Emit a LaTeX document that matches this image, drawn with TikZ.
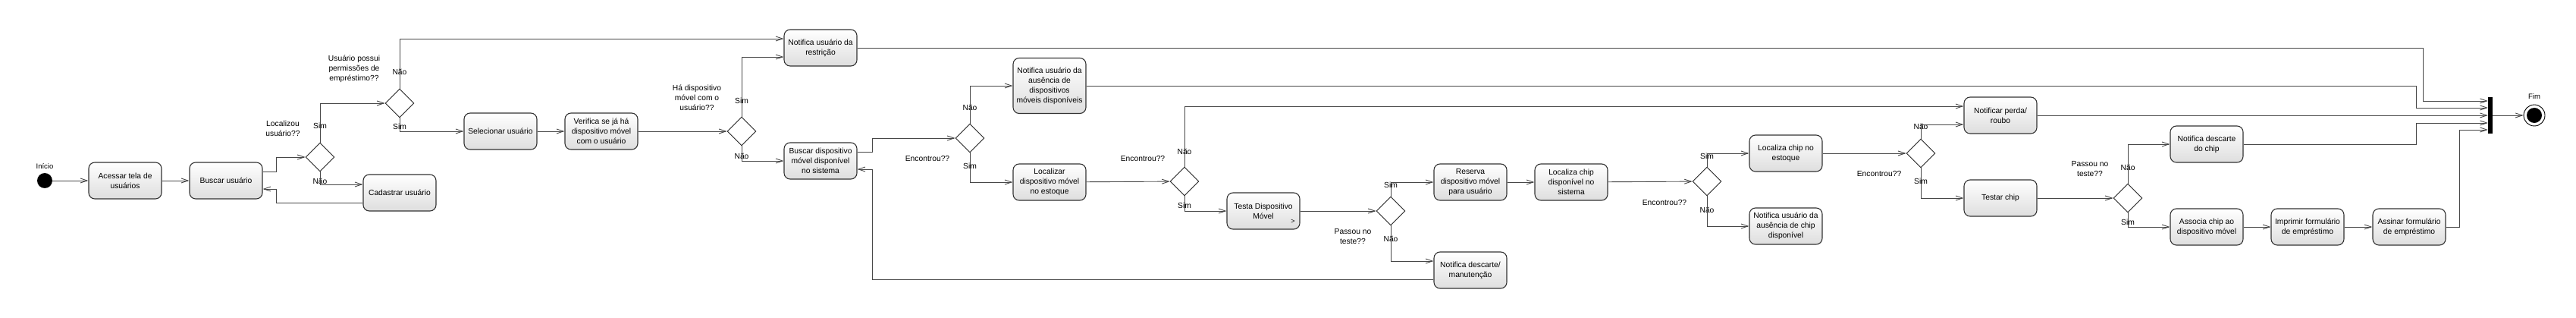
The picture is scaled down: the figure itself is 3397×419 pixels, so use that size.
\documentclass[tikz,border=0pt]{standalone}
\usepackage{fontspec}
\setmainfont{Liberation Sans}
\usetikzlibrary{arrows.meta,calc,shapes.geometric}
\tikzset{
  flow arrow/.style = {-{Straight Barb[length=9pt,width=6pt]}, line width=0.9pt, draw=black!72},
  action/.style     = {rectangle, rounded corners=8pt, draw=black!80, line width=1.1pt,
                       top color=white, bottom color=black!13,
                       minimum width=96pt, minimum height=48pt, inner sep=2pt, align=center},
  decision/.style   = {diamond, draw=black!85, line width=0.9pt, fill=white,
                       minimum width=38pt, minimum height=38pt, inner sep=0pt},
  start dot/.style  = {circle, fill=black, inner sep=0pt, minimum size=20pt},
  end ring/.style   = {circle, draw=black, line width=0.9pt, fill=white, inner sep=0pt, minimum size=28pt},
  sync bar/.style   = {rectangle, fill=black, inner sep=0pt, minimum width=6pt, minimum height=48pt},
  guard/.style      = {align=center},
}

\begin{document}
\begin{tikzpicture}[
    x=1pt, y=-1pt,
    every node/.style={font=\fontsize{10.3}{13}\selectfont},
  ]
  \useasboundingbox (0,0) rectangle (3397,419);

  % ---- start, user lookup ------------------------------------------------
  \node[start dot] (ini) at (59,238) {};
  \node[font=\fontsize{9.5}{11}\selectfont] (iniLbl) at (59,219) {Início};
  \node[action] (acessar)    at (165,238) {Acessar tela de\\usuários};
  \node[action] (buscarUs)   at (298,238) {Buscar usuário};
  \node[decision] (d1)       at (422,207) {};
  \node[action] (cadastrar)  at (527,254) {Cadastrar usuário};
  \node[decision] (d2)       at (527,136) {};
  \node[action] (selecionar) at (660,173) {Selecionar usuário};
  \node[action] (verifica)   at (793,173) {Verifica se já há\\dispositivo móvel\\com o usuário};
  \node[decision] (d3)       at (978,173) {};

  % ---- device search -----------------------------------------------------
  \node[action] (restricao)     at (1082,63)  {Notifica usuário da\\restrição};
  \node[action] (buscarDisp)    at (1082,212) {Buscar dispositivo\\móvel disponível\\no sistema};
  \node[decision] (d4)          at (1279,182) {};
  \node[action, minimum height=73pt] (ausDisp) at (1384,113)
        {Notifica usuário da\\ausência de\\dispositivos\\móveis disponíveis};
  \node[action] (localizarDisp) at (1384,240) {Localizar\\dispositivo móvel\\no estoque};
  \node[decision] (d5)          at (1562,239) {};
  \node[action] (testaDisp)     at (1666,278) {Testa Dispositivo\\Móvel};
  \node[font=\fontsize{9}{10}\selectfont] (subAct) at (1705,292) {>};
  \node[decision] (d6)          at (1834,278) {};
  \node[action] (reserva)       at (1939,240) {Reserva\\dispositivo móvel\\para usuário};
  \node[action] (descManut)     at (1939,356) {Notifica descarte/\\manutenção};

  % ---- chip --------------------------------------------------------------
  \node[action] (locChipSis)  at (2072,240) {Localiza chip\\disponível no\\sistema};
  \node[decision] (d7)        at (2251,239) {};
  \node[action] (chipEstoque) at (2355,202) {Localiza chip no\\estoque};
  \node[action] (ausChip)     at (2355,298) {Notifica usuário da\\ausência de chip\\disponível};
  \node[decision] (d8)        at (2533,202) {};
  \node[action] (perda)       at (2638,152) {Notificar perda/\\roubo};
  \node[action] (testarChip)  at (2638,261) {Testar chip};
  \node[decision] (d9)        at (2806,261) {};
  \node[action] (descChip)    at (2910,190) {Notifica descarte\\do chip};
  \node[action] (associa)     at (2910,299) {Associa chip ao\\dispositivo móvel};
  \node[action] (imprimir)    at (3043,299) {Imprimir formulário\\de empréstimo};
  \node[action] (assinar)     at (3177,299) {Assinar formulário\\de empréstimo};

  % ---- join and end ------------------------------------------------------
  \node[sync bar] (join) at (3284,152) {};
  \node[end ring] (fim)  at (3342,152) {};
  \fill (fim.center) circle (10pt);
  \node[font=\fontsize{9.5}{11}\selectfont] (fimLbl) at (3342,127) {Fim};

  % ---- questions and guards ----------------------------------------------
  \node[guard] (q1) at (373,169)  {Localizou\\usuário??};
  \node[guard] (q2) at (467,91)   {Usuário possui\\permissões de\\empréstimo??};
  \node[guard] (q3) at (919,129)  {Há dispositivo\\móvel com o\\usuário??};
  \node[guard] (q4) at (1223,209) {Encontrou??};
  \node[guard] (q5) at (1507,209) {Encontrou??};
  \node[guard] (q6) at (1784,312) {Passou no\\teste??};
  \node[guard] (q7) at (2195,267) {Encontrou??};
  \node[guard] (q8) at (2478,229) {Encontrou??};
  \node[guard] (q9) at (2756,223) {Passou no\\teste??};
  \foreach \n/\x/\y/\t in {a/422/166/Sim, b/422/239/Não, c/527/95/Não, d/527/167/Sim,
                           e/978/133/Sim, f/978/206/Não, g/1279/142/Não, h/1279/219/Sim,
                           i/1562/200/Não, j/1562/271/Sim, k/1834/244/Sim, l/1834/315/Não,
                           m/2251/206/Sim, n/2251/277/Não, o/2533/167/Não, p/2533/239/Sim,
                           q/2806/221/Não, r/2806/293/Sim}
    { \node (g\n) at (\x,\y) {\t}; }

  % ---- flows -------------------------------------------------------------
  \draw[flow arrow] (ini) -- (acessar);
  \draw[flow arrow] (acessar) -- (buscarUs);
  \draw[flow arrow] ($(buscarUs.east)+(0,-12)$) -- ++(18,0) |- (d1.west);
  \draw[flow arrow] (d1.north) |- (d2.west);
  \draw[flow arrow] (d1.south) |- ($(cadastrar.west)+(0,-11)$);
  \draw[flow arrow] ($(cadastrar.west)+(0,13)$) -- ++(-114,0) |- ($(buscarUs.east)+(0,11)$);
  \draw[flow arrow] (d2.north) |- ($(restricao.west)+(0,-12)$);
  \draw[flow arrow] (d2.south) |- (selecionar.west);
  \draw[flow arrow] (selecionar) -- (verifica);
  \draw[flow arrow] (verifica) -- (d3);
  \draw[flow arrow] (d3.north) |- ($(restricao.west)+(0,12)$);
  \draw[flow arrow] (d3.south) |- (buscarDisp.west);
  \draw[flow arrow] ($(buscarDisp.east)+(0,-12)$) -- ++(20,0) |- (d4.west);
  \draw[flow arrow] (d4.north) |- (ausDisp.west);
  \draw[flow arrow] (d4.south) |- (localizarDisp.west);
  \draw[flow arrow] (localizarDisp) -- (d5);
  \draw[flow arrow] (d5.north) |- ($(perda.west)+(0,-12)$);
  \draw[flow arrow] (d5.south) |- (testaDisp.west);
  \draw[flow arrow] (testaDisp) -- (d6);
  \draw[flow arrow] (d6.north) |- (reserva.west);
  \draw[flow arrow] (d6.south) |- ($(descManut.west)+(0,-12)$);
  \draw[flow arrow] ($(descManut.west)+(0,12)$) -| ($(buscarDisp.east)+(20,11)$)
                    -- ($(buscarDisp.east)+(0,11)$);
  \draw[flow arrow] (reserva) -- (locChipSis);
  \draw[flow arrow] (locChipSis) -- (d7);
  \draw[flow arrow] (d7.north) |- (chipEstoque.west);
  \draw[flow arrow] (d7.south) |- (ausChip.west);
  \draw[flow arrow] (chipEstoque) -- (d8);
  \draw[flow arrow] (d8.north) |- ($(perda.west)+(0,12)$);
  \draw[flow arrow] (d8.south) |- (testarChip.west);
  \draw[flow arrow] (testarChip) -- (d9);
  \draw[flow arrow] (d9.north) |- (descChip.west);
  \draw[flow arrow] (d9.south) |- (associa.west);
  \draw[flow arrow] (associa) -- (imprimir);
  \draw[flow arrow] (imprimir) -- (assinar);

  % ---- into the join bar ---------------------------------------------------
  \draw[flow arrow] (restricao.east) -| ($(join.west)+(-85,-19)$) -- ($(join.west)+(0,-19)$);
  \draw[flow arrow] (ausDisp.east) -| ($(join.west)+(-94,-10)$) -- ($(join.west)+(0,-10)$);
  \draw[flow arrow] (perda.east) -- (join.west);
  \draw[flow arrow] (descChip.east) -| ($(join.west)+(-94,10)$) -- ($(join.west)+(0,10)$);
  \draw[flow arrow] (assinar.east) -- ++(18,0) |- ($(join.west)+(0,19)$);
  \draw[flow arrow] (join) -- (fim);
\end{tikzpicture}
\end{document}
